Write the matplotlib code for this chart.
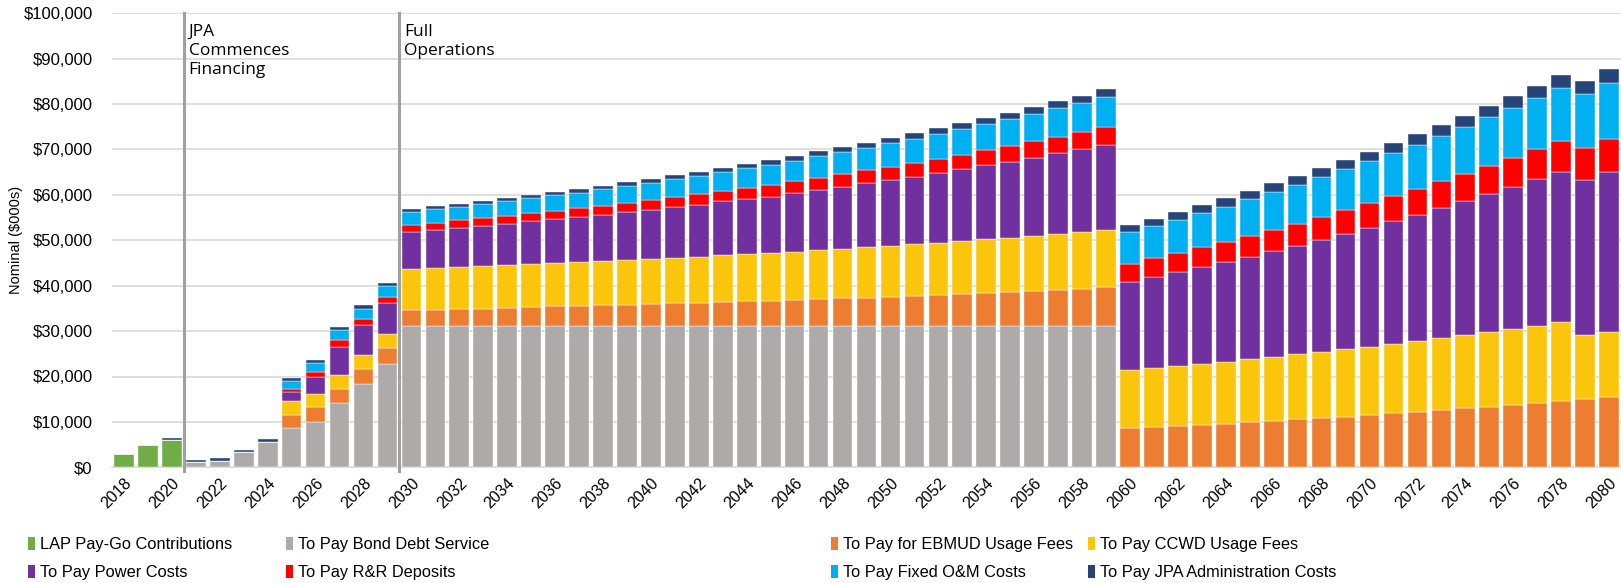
import matplotlib
matplotlib.use("Agg")
import matplotlib.pyplot as plt
import numpy as np
from matplotlib.patches import Patch
from matplotlib.ticker import FuncFormatter

years = list(range(2018, 2081))

lap_paygo = [2900, 5000, 6100] + [0] * 60

bond_debt = ([0, 0, 0, 1250, 1400, 3300, 5500, 8600, 10000, 14100, 18300, 22800]
             + [31200] * 30 + [0] * 21)

ebmud_fees = ([0] * 7 + [3010, 3230, 3230, 3300, 3370]
              + [3520, 3520, 3740, 3740, 3960, 4030, 4250, 4400, 4470, 4620,
                 4770, 4910, 5060, 5210, 5350, 5500, 5650, 5790, 6010, 6160,
                 6380, 6600, 6820, 7040, 7190, 7410, 7630, 7920, 8140, 8440]
              + [8590, 8810, 9180, 9400, 9620, 9980, 10280, 10570, 10860, 11160,
                 11600, 11960, 12260, 12700, 12990, 13360, 13800, 14240, 14680,
                 15120, 15560])

ccwd_fees = ([0] * 7 + [2930, 3010, 3010, 3230, 3230]
             + [9030, 9250, 9250, 9390, 9390, 9540, 9540, 9610, 9760, 9830,
                9910, 10060, 10130, 10270, 10430, 10500, 10640, 10790, 10940, 11080,
                11230, 11300, 11450, 11600, 11820, 11960, 12110, 12190, 12410, 12550]
             + [12840, 13060, 13130, 13350, 13650, 13880, 14090, 14310, 14610, 14820,
                14970, 15270, 15560, 15780, 16150, 16440, 16660, 16960, 17250,
                14020, 14310])

power_costs = ([0] * 7 + [1970, 3740, 6240, 6460, 6680]
               + [8000, 8220, 8440, 8740, 9110, 9400, 9620, 9840, 10130, 10500,
                  10780, 11080, 11450, 11890, 12030, 12400, 12850, 13220, 13650, 14100,
                  14460, 14900, 15270, 15780, 16290, 16740, 17250, 17830, 18350, 18860]
               + [19450, 20040, 20780, 21290, 21940, 22530, 23190, 23930, 24660, 25470,
                  26200, 26940, 27740, 28550, 29430, 30310, 31270, 32220, 33180,
                  34060, 35240])

rr_deposits = ([0] * 7 + [820, 1030, 1400, 1320, 1400]
               + [1610, 1690, 1830, 1830, 1760, 1760, 1910, 2050, 2060, 2130,
                  2280, 2280, 2350, 2280, 2500, 2640, 2640, 2790, 2870, 2860,
                  2940, 3090, 3160, 3230, 3380, 3520, 3670, 3670, 3810, 3890]
               + [3970, 4110, 4180, 4400, 4480, 4620, 4770, 4850, 5070, 5140,
                  5360, 5650, 5800, 6020, 6100, 6320, 6460, 6680, 6820, 7190, 7260])

fixed_om = ([0] * 7 + [1760, 2060, 2270, 2350, 2490]
            + [2860, 3010, 2940, 3090, 3150, 3300, 3370, 3380, 3670, 3740,
               3670, 3960, 4040, 4190, 4330, 4410, 4550, 4690, 4770, 4990,
               5210, 5280, 5500, 5650, 5720, 5870, 6020, 6310, 6390, 6680]
            + [6900, 7120, 7270, 7560, 7710, 8000, 8230, 8510, 8660, 9030,
               9250, 9400, 9690, 9980, 10340, 10640, 11010, 11300, 11670, 11890, 12330])

jpa_admin = ([0, 0, 450, 450, 550, 600, 650] + [520, 580, 590, 730, 590]
             + [590, 580, 660, 660, 660, 660, 670, 810, 730, 740,
                880, 810, 880, 950, 1030, 1030, 1100, 1180, 1100, 1100,
                1170, 1180, 1320, 1250, 1320, 1400, 1470, 1470, 1540, 1620]
             + [1610, 1620, 1680, 1690, 1830, 1840, 1980, 1980, 2050, 2060,
                2130, 2200, 2350, 2350, 2350, 2490, 2570, 2640, 2720, 2860, 2940])

series_labels = ["LAP Pay-Go Contributions", "To Pay Bond Debt Service",
                 "To Pay for EBMUD Usage Fees", "To Pay CCWD Usage Fees",
                 "To Pay Power Costs", "To Pay R&R Deposits",
                 "To Pay Fixed O&M Costs", "To Pay JPA Administration Costs"]
series_colors = ["#70AD47", "#AEAAAA", "#ED7D31", "#FAC50A",
                 "#7030A0", "#FF0000", "#00B0F0", "#264478"]
series_values = [lap_paygo, bond_debt, ebmud_fees, ccwd_fees,
                 power_costs, rr_deposits, fixed_om, jpa_admin]

event_labels = ["JPA\nCommences\nFinancing", "Full\nOperations"]
event_years = [2020.5, 2029.5]

W, H = 1621, 583
fig = plt.figure(figsize=(W / 100, H / 100), dpi=100)
ax_w = 1621 - 112
ax = fig.add_axes([112 / W, 1 - 467.3 / H, ax_w / W, (467.3 - 13.3) / H])

x = np.arange(len(years))
bottom = np.zeros(len(years))
for vals, col, lab in zip(series_values, series_colors, series_labels):
    v = np.array(vals, dtype=float)
    ax.bar(x, v, bottom=bottom, width=0.82, color=col, label=lab, zorder=3,
           edgecolor="white", linewidth=0.3)
    bottom += v

ax.set_xlim(-0.5, len(years) - 0.5)
ax.set_ylim(0, 100000)
ax.set_yticks(np.arange(0, 100001, 10000))
ax.yaxis.set_major_formatter(FuncFormatter(lambda v, p: "${:,.0f}".format(v)))
ax.grid(axis="y", color="#d9d9d9", linewidth=1.2, zorder=0)
ax.set_axisbelow(True)
for s in ["top", "right", "left"]:
    ax.spines[s].set_visible(False)
ax.spines["bottom"].set_color("#d9d9d9")
ax.spines["bottom"].set_linewidth(1.2)

tick_idx = [i for i, y in enumerate(years) if y % 2 == 0]
ax.set_xticks(tick_idx)
ax.set_xticklabels([str(years[i]) for i in tick_idx], rotation=45, ha="right",
                   rotation_mode="anchor", fontsize=11.5, family="Liberation Sans")
ax.tick_params(axis="x", length=0, pad=6)
ax.tick_params(axis="y", length=0, pad=14)
for t in ax.get_yticklabels():
    t.set_family("Liberation Sans")
    t.set_fontsize(12)

ax.set_ylabel("Nominal ($000s)", fontsize=10.5, family="Liberation Sans")
ax.yaxis.set_label_coords((23 - 112) / ax_w, 0.5)

for yr, lab in zip(event_years, event_labels):
    xi = yr - years[0]
    ax.axvline(xi, ymin=-0.008, ymax=1.0, color="#a0a0a0", linewidth=2.2,
               zorder=4, clip_on=False)
    ax.text(xi + 0.2, 97600, lab, va="top", ha="left", fontsize=12.5,
            family="Open Sans", linespacing=1.25, zorder=5)

handles = [Patch(facecolor=c, edgecolor="none") for c in series_colors]
columns = [(0, 4), (1, 5), (2, 6), (3, 7)]
col_x = [28, 286, 831, 1088]
for (a, b), cx in zip(columns, col_x):
    fig.legend([handles[a], handles[b]], [series_labels[a], series_labels[b]],
               loc="upper left", bbox_to_anchor=(cx / W, 1 - 537 / H),
               frameon=False, ncol=1, borderpad=0, borderaxespad=0,
               handlelength=0.45, handleheight=0.85, handletextpad=0.3,
               labelspacing=0.75,
               prop={"family": "Liberation Sans", "size": 11.8})

fig.savefig("out.png", dpi=100)
